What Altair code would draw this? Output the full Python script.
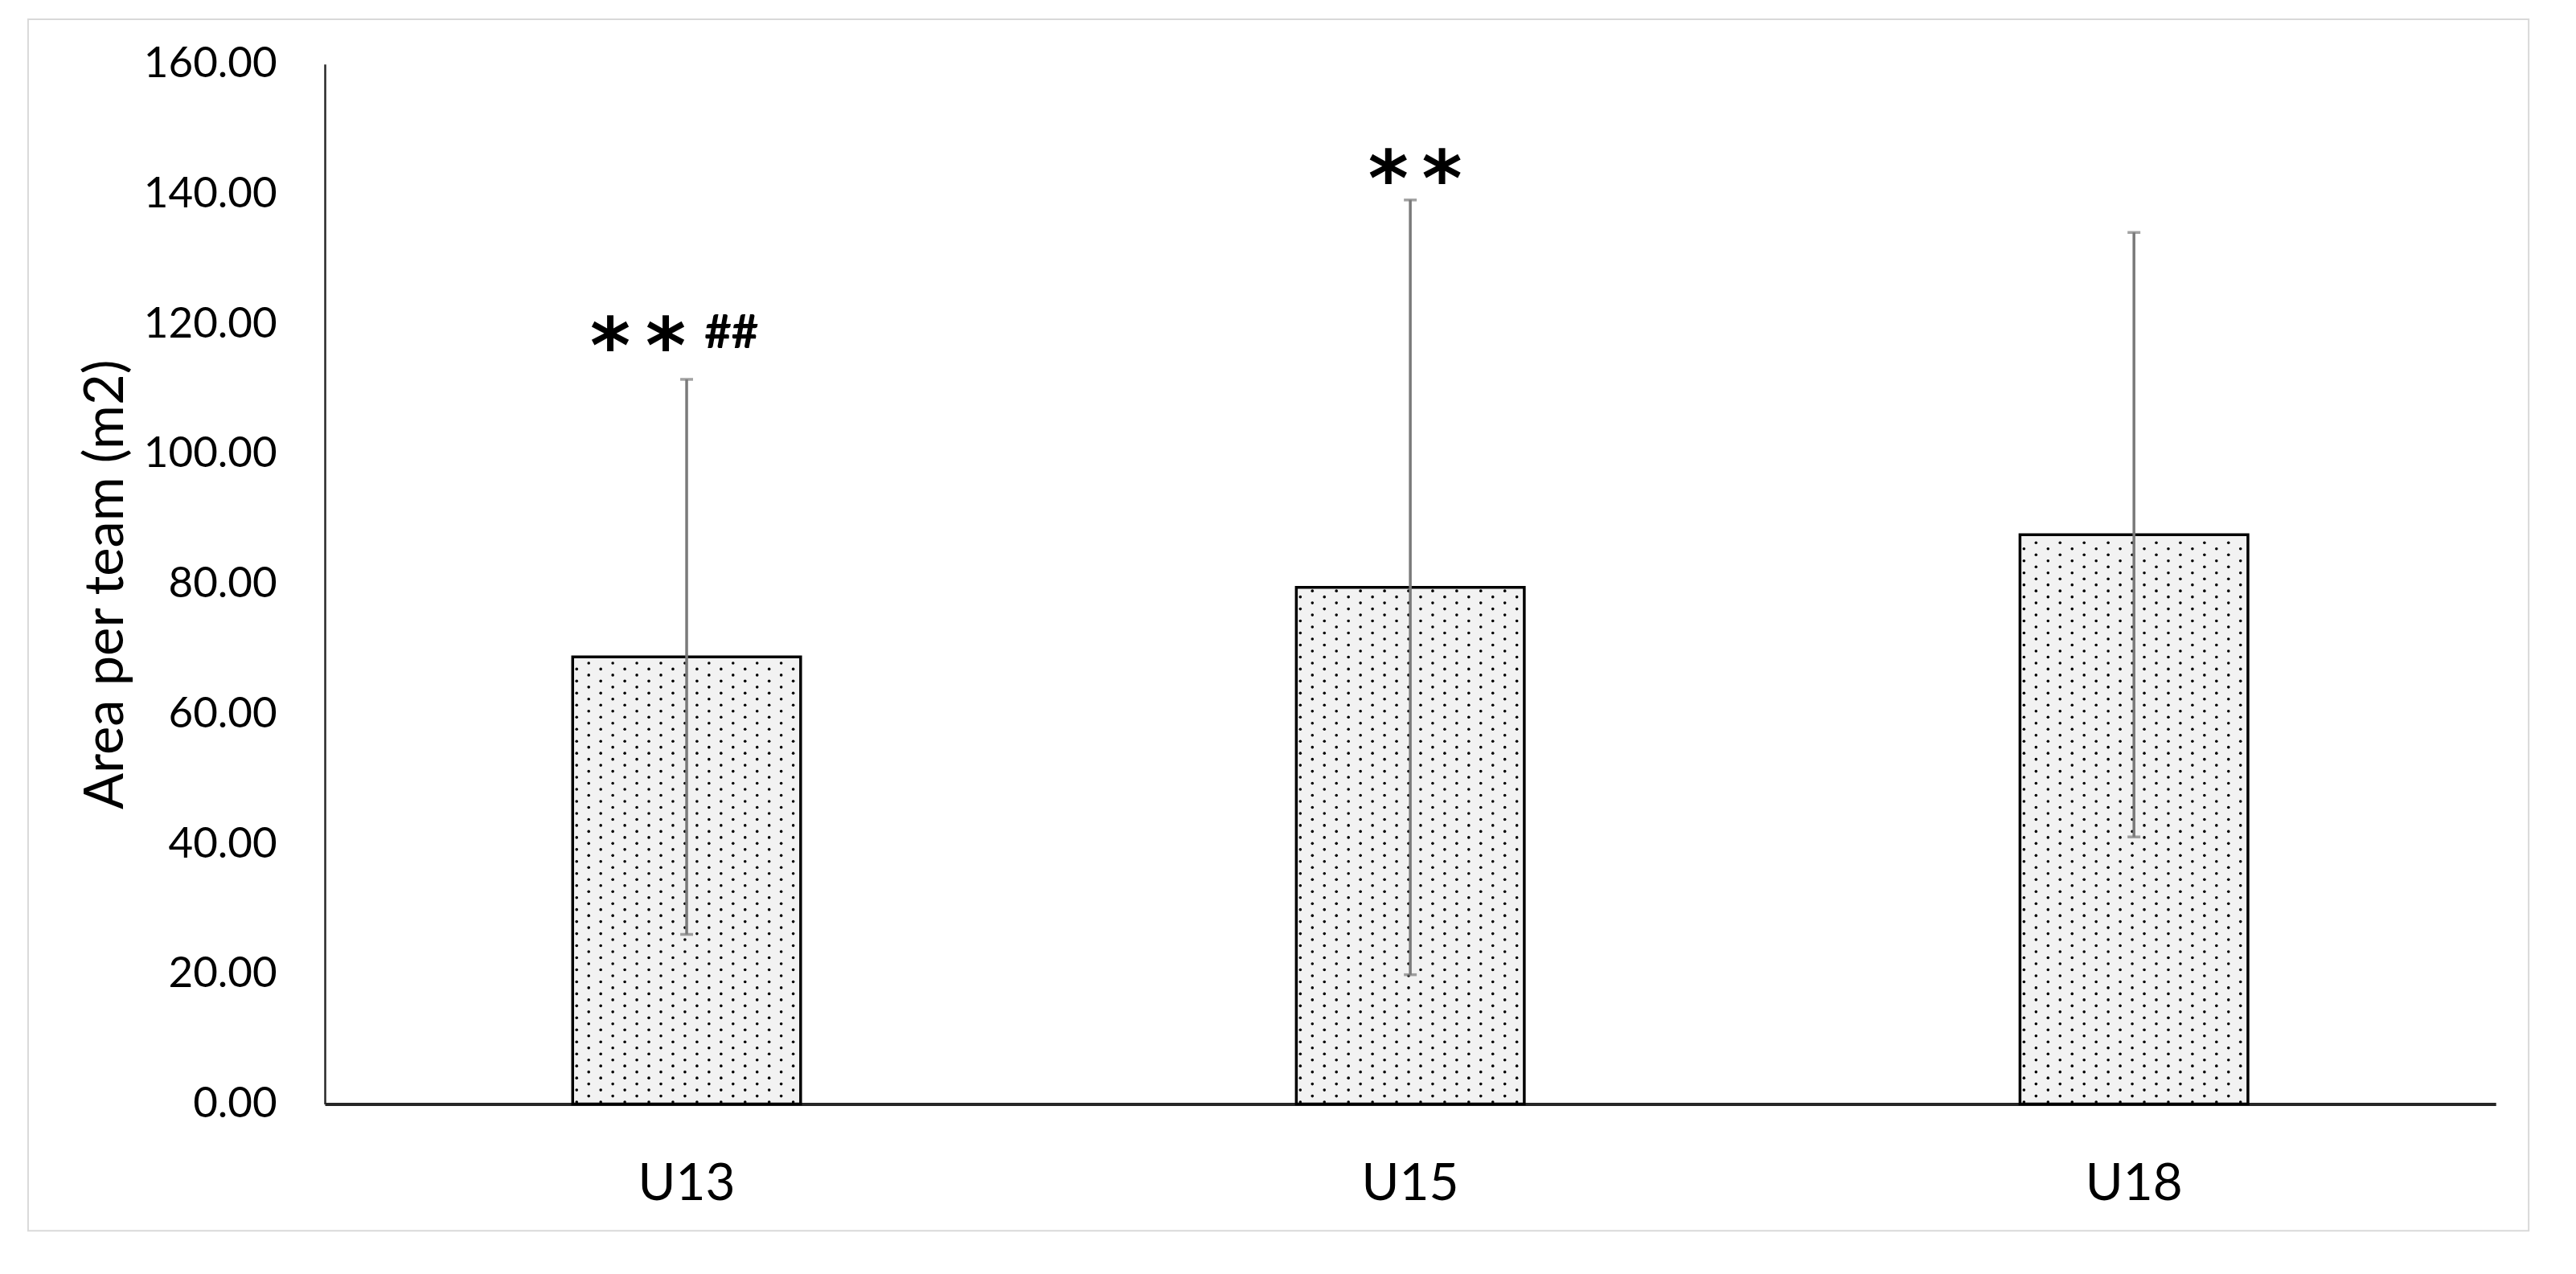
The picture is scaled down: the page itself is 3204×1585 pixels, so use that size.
import altair as alt
import pandas as pd

# ---- data ----
categories = ["U13", "U15", "U18"]
means = [68.8, 79.5, 87.6]
sds = [42.7, 59.6, 46.5]

# significance marks (positions in data units: x = category index scale, y = value)
star_text = ["*", "*", "*", "*"]
star_x = [0.3945, 0.4710, 1.4695, 1.5438]
star_y = [112.5, 112.5, 138.2, 138.2]
hash_text = ["##"]
hash_x = [0.5619]
hash_y = [116.3]

y_ticks = [0, 20, 40, 60, 80, 100, 120, 140, 160]

# ---- layout ----
W, H = 2707, 1297
PAD_IN, PAD_OUT = 0.685, 0.3425
PXU_Y = H / 160.0
STEP_PX = W / 3.0
BAR_PX = STEP_PX * (1 - PAD_IN)
HALF_BAR_UNITS = (1 - PAD_IN) / 2

df = pd.DataFrame({
    "cat": categories,
    "idx": list(range(len(categories))),
    "mean": means,
    "sd": sds,
})
df["lo"] = df["mean"] - df["sd"]
df["hi"] = df["mean"] + df["sd"]

stars = pd.DataFrame({"t": star_text, "xp": star_x, "yp": star_y})
hashes = pd.DataFrame({"t": hash_text, "xp": hash_x, "yp": hash_y})

yscale = alt.Scale(domain=[0, 160], nice=False)
yaxis = alt.Axis(
    title="Area per team (m2)", values=y_ticks, format=".2f",
    labelFontSize=53, labelPadding=60, labelColor="black", labelFont="Lato",
    ticks=False, grid=False, domainColor="#262626", domainWidth=2.5,
    titleFontSize=67, titleFontWeight="normal", titleColor="black", titleFont="Lato",
    titleAngle=270, titleBaseline="alphabetic", titleAlign="center",
    titleX=-252, titleY=H / 2,
)
xscale_band = alt.Scale(paddingInner=PAD_IN, paddingOuter=PAD_OUT)
xaxis = alt.Axis(
    title=None, labelAngle=0, labelFontSize=64, labelColor="black", labelFont="Lato",
    labelPadding=68, ticks=False, domainColor="#262626", domainWidth=4,
)
xq = alt.Scale(domain=[0, 3], nice=False, zero=False)

# frame around the figure
frame = alt.Chart(alt.Data(values=[{"k": 1}])).mark_rect(
    fill="transparent", stroke="#d9d9d9", strokeWidth=2
).encode(
    x=alt.value(-370), x2=alt.value(2748), y=alt.value(-56), y2=alt.value(1455)
)

bars_fill = alt.Chart(df).mark_bar(color="#f2f2f2", strokeWidth=0).encode(
    x=alt.X("cat:N", sort=categories, scale=xscale_band, axis=xaxis),
    y=alt.Y("mean:Q", scale=yscale, axis=yaxis),
)

# dotted texture inside bars
dots = alt.Chart(df).transform_calculate(
    r="sequence(0, 130)"
).transform_flatten(["r"]).transform_calculate(
    c="sequence(0, 10)"
).transform_flatten(["c"]).transform_calculate(
    xoff="datum.c * 30 + (datum.r % 2 == 0 ? 5 : 20)",
    ypx="2.5 + 7.5 * datum.r",
).transform_filter(
    f"datum.xoff < {BAR_PX - 2} && datum.ypx < datum.mean * {PXU_Y} - 3"
).transform_calculate(
    dxp=f"datum.idx + 0.5 - {HALF_BAR_UNITS} + datum.xoff / {STEP_PX}",
    dyp=f"datum.ypx / {PXU_Y}",
).mark_circle(size=13, color="#000000", opacity=1).encode(
    x=alt.X("dxp:Q", scale=xq, axis=None),
    y=alt.Y("dyp:Q", scale=yscale, axis=yaxis),
)

xb = alt.X("cat:N", sort=categories, scale=xscale_band, axis=None)
outline = alt.Chart(df).mark_bar(
    fill="transparent", stroke="#000000", strokeWidth=3.5
).encode(x=xb, y=alt.Y("mean:Q", scale=yscale, axis=yaxis))

err = alt.Chart(df).mark_rule(color="#7a7a7a", strokeWidth=3.5).encode(
    x=xb, y=alt.Y("lo:Q", scale=yscale, axis=yaxis), y2="hi:Q"
)
cap_hi = alt.Chart(df).mark_tick(color="#7a7a7a", thickness=3.5, size=16).encode(
    x=xb, y=alt.Y("hi:Q", scale=yscale, axis=yaxis)
)
cap_lo = alt.Chart(df).mark_tick(color="#7a7a7a", thickness=3.5, size=16).encode(
    x=xb, y=alt.Y("lo:Q", scale=yscale, axis=yaxis)
)
band_top = alt.layer(outline, err, cap_hi, cap_lo)

star_marks = alt.Chart(stars).mark_text(
    font="DejaVu Sans", fontWeight="bold", fontSize=96, color="black",
    align="center", baseline="alphabetic",
).encode(
    x=alt.X("xp:Q", scale=xq, axis=None),
    y=alt.Y("yp:Q", scale=yscale, axis=yaxis),
    text="t:N",
)
hash_marks = alt.Chart(hashes).mark_text(
    font="Lato", fontWeight="bold", fontSize=58, color="black",
    align="center", baseline="alphabetic",
).encode(
    x=alt.X("xp:Q", scale=xq, axis=None),
    y=alt.Y("yp:Q", scale=yscale, axis=yaxis),
    text="t:N",
)
ann = alt.layer(star_marks, hash_marks)

chart = alt.layer(frame, bars_fill, dots, band_top, ann).resolve_scale(
    x="independent"
).properties(
    width=W, height=H,
    autosize=alt.AutoSizeParams(type="none"),
    padding={"left": 397, "top": 70, "right": 92, "bottom": 210},
).configure(font="Lato").configure_view(strokeWidth=0)

chart.save("out.html", embed_options={"renderer": "svg", "actions": False})
